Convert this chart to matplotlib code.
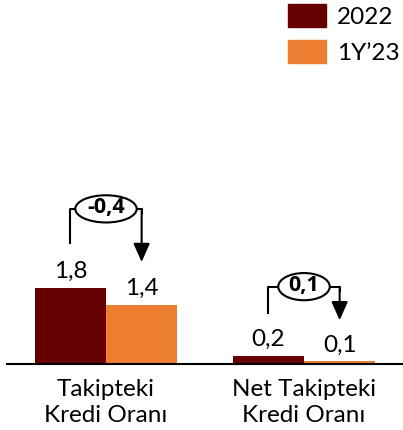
import matplotlib.pyplot as plt
from matplotlib.patches import Ellipse, Patch

categories = ['Takipteki\nKredi Oranı', 'Net Takipteki\nKredi Oranı']
series_names = ['2022', '1Y\u201923']
values_2022 = [1.8, 0.2]
values_1y23 = [1.4, 0.06]
labels_2022 = ['1,8', '0,2']
labels_1y23 = ['1,4', '0,1']
change_labels = ['-0,4', '0,1']

colors = ['#660000', '#ED7D31']

# bracket layout (data units)
bracket_top = [3.65, 1.82]
bracket_left_end = [2.85, 1.2]
arrow_tip = [2.4, 1.03]
ellipse_w = [0.31, 0.26]

plt.rcParams['font.family'] = ['Lato', 'DejaVu Sans']

fig = plt.figure(figsize=(4.03, 4.30), dpi=100)
ax = fig.add_axes([7 / 403, 66 / 430, 396 / 403, 170 / 430])

w = 0.36
x = list(range(len(categories)))
x1 = [i - w / 2 for i in x]
x2 = [i + w / 2 for i in x]
ax.bar(x1, values_2022, width=w, color=colors[0], label=series_names[0])
ax.bar(x2, values_1y23, width=w, color=colors[1], label=series_names[1])

for xs, vals, labs in [(x1, values_2022, labels_2022), (x2, values_1y23, labels_1y23)]:
    for xi, v, lab in zip(xs, vals, labs):
        ax.annotate(lab, (xi, v), xytext=(0, 7), textcoords='offset points',
                    ha='center', va='baseline', fontsize=17.5)

for i in range(len(categories)):
    ax.plot([x1[i], x1[i], x2[i], x2[i]],
            [bracket_left_end[i], bracket_top[i], bracket_top[i], bracket_top[i] - 0.1],
            color='black', lw=1.5, clip_on=False, zorder=3)
    ax.annotate('', xy=(x2[i], arrow_tip[i]), xytext=(x2[i], bracket_top[i] - 0.05),
                arrowprops=dict(arrowstyle='-|>,head_length=0.45,head_width=0.2',
                                mutation_scale=25, color='black', lw=1.5,
                                shrinkA=0, shrinkB=0),
                annotation_clip=False, zorder=3)
    ax.add_patch(Ellipse((x[i], bracket_top[i]), ellipse_w[i], 0.64, facecolor='white',
                         edgecolor='black', lw=1.5, clip_on=False, zorder=4))
    ax.text(x[i], bracket_top[i] + 0.03, change_labels[i], ha='center', va='center',
            fontsize=15.5, fontweight='bold', family=['Open Sans', 'DejaVu Sans'], zorder=5)

ax.set_xlim(-0.5, 1.5)
ax.set_ylim(0, 4)
ax.set_xticks(x)
ax.set_xticklabels(categories, fontsize=17.5, linespacing=1.25)
ax.tick_params(axis='x', length=0, pad=11)
ax.set_yticks([])
for s in ['top', 'right', 'left']:
    ax.spines[s].set_visible(False)
ax.spines['bottom'].set_linewidth(1.5)

handles = [Patch(color=c) for c in colors]
fig.legend(handles, series_names, loc='upper left', bbox_to_anchor=(288 / 403, 1 - 4 / 430),
           frameon=False, fontsize=17.5, handlelength=1.57, handleheight=1.1,
           labelspacing=0.5, handletextpad=0.45, borderpad=0, borderaxespad=0)

fig.savefig('out.png', dpi=100)
